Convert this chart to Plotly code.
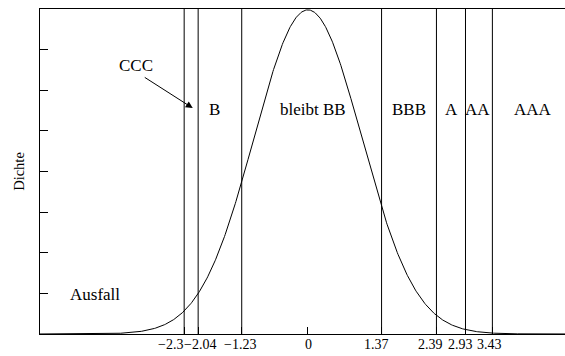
import numpy as np
import plotly.graph_objects as go

# Rating thresholds (standard normal quantiles)
thresholds = [-2.3, -2.04, -1.23, 1.37, 2.39, 2.93, 3.43]
tick_vals = [-2.3, -2.04, -1.23, 0, 1.37, 2.39, 2.93, 3.43]
tick_text = ["\u22122.3", "\u22122.04", "\u22121.23", "0", "1.37", "2.39", "2.93", "3.43"]

# Region labels
region_labels = ["B", "bleibt BB", "BBB", "A", "AA", "AAA", "Ausfall"]
region_x = [-1.73, 0.09, 1.88, 2.67, 3.16, 4.18, -3.96]
region_y = [0.276, 0.276, 0.276, 0.276, 0.276, 0.276, 0.049]

ccc_text_xy = (-3.2, 0.331)
ccc_arrow_tail = (-3.06, 0.317)
ccc_arrow_head = (-2.14, 0.278)

# Standard normal density
mu, sigma = 0.0, 1.0
x = np.linspace(-5, 5, 801)
dens = np.exp(-0.5 * ((x - mu) / sigma) ** 2) / (sigma * np.sqrt(2 * np.pi))

SERIF = "Liberation Serif, Times New Roman, Times, serif"
# horizontal pixel nudges of the crowded tick labels (style only)
tick_label_shift = [-14, 2, -2, 1, -5, -6, -5, -3]

fig = go.Figure()
fig.add_trace(go.Scatter(x=x, y=dens, mode="lines",
                         line=dict(color="black", width=1), hoverinfo="skip"))

vx, vy = [], []
for t in thresholds:
    vx += [t, t, None]
    vy += [0, 0.4, None]
fig.add_trace(go.Scatter(x=vx, y=vy, mode="lines",
                         line=dict(color="black", width=1), hoverinfo="skip"))

font = dict(family=SERIF, size=17, color="black")
for lab, lx, ly in zip(region_labels, region_x, region_y):
    fig.add_annotation(x=lx, y=ly, text=lab, showarrow=False, font=font)

fig.add_annotation(x=ccc_text_xy[0], y=ccc_text_xy[1], text="CCC", showarrow=False, font=font)
fig.add_annotation(x=ccc_arrow_head[0], y=ccc_arrow_head[1],
                   ax=ccc_arrow_tail[0], ay=ccc_arrow_tail[1],
                   axref="x", ayref="y", xref="x", yref="y",
                   text="", showarrow=True, arrowhead=2, arrowsize=1.4,
                   arrowwidth=1, arrowcolor="black")

# x tick labels (placed at the tick values, nudged to avoid overlap)
for tv, tt, sh in zip(tick_vals, tick_text, tick_label_shift):
    fig.add_annotation(x=tv, y=0, xref="x", yref="paper", text=tt,
                       showarrow=False, xanchor="center", yanchor="top",
                       xshift=sh, yshift=-1,
                       font=dict(family=SERIF, size=14, color="black"))

fig.update_layout(
    width=565, height=356,
    margin=dict(l=40, r=0, t=9, b=22),
    paper_bgcolor="white", plot_bgcolor="white",
    showlegend=False,
    font=dict(family=SERIF, color="black"),
    xaxis=dict(range=[-4.98, 4.78], showgrid=False, zeroline=False,
               showline=True, linecolor="black", linewidth=1, mirror=True,
               ticks="inside", ticklen=7, tickcolor="black", tickwidth=1,
               tickvals=tick_vals, showticklabels=False,
               automargin=False),
    yaxis=dict(range=[0, 0.4], showgrid=False, zeroline=False,
               showline=True, linecolor="black", linewidth=1,
               ticks="inside", ticklen=8, tickcolor="black", tickwidth=1,
               tickvals=[0.05, 0.1, 0.15, 0.2, 0.25, 0.3, 0.35],
               showticklabels=False, automargin=False,
               title=dict(text="Dichte", standoff=10,
                          font=dict(family=SERIF, size=14.5, color="black"))),
)

fig.write_html("out.html")
